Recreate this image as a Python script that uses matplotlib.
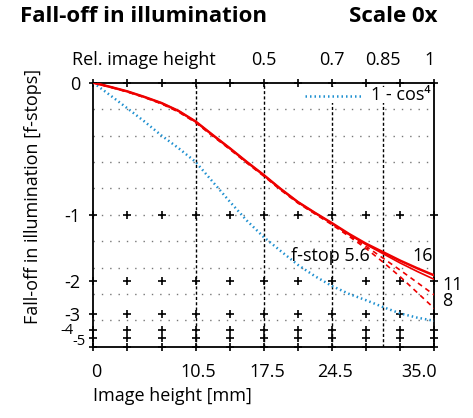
import numpy as np
import matplotlib.pyplot as plt
from matplotlib import transforms

plt.rcParams['font.family'] = ['Open Sans', 'DejaVu Sans']

# image height [mm]
height_mm = [0, 1.75, 3.5, 5.25, 7, 8.75, 10.5, 12.25, 14, 15.75, 17.5,
             19.25, 21, 22.75, 24.5, 26.25, 28, 29.75, 31.5, 33.25, 35]

# relative illumination (1 = no fall-off)
ill_16 = [1.0, 0.984, 0.967, 0.946, 0.923, 0.893, 0.853, 0.802, 0.752, 0.700, 0.650,
          0.597, 0.548, 0.507, 0.468, 0.427, 0.390, 0.358, 0.326, 0.297, 0.270]
ill_11 = [1.0, 0.984, 0.967, 0.946, 0.923, 0.893, 0.853, 0.802, 0.752, 0.700, 0.650,
          0.597, 0.548, 0.507, 0.467, 0.425, 0.387, 0.352, 0.317, 0.285, 0.255]
ill_8 = [1.0, 0.984, 0.966, 0.945, 0.921, 0.891, 0.851, 0.800, 0.750, 0.698, 0.648,
         0.595, 0.546, 0.505, 0.465, 0.422, 0.380, 0.335, 0.290, 0.243, 0.196]
ill_56 = [1.0, 0.983, 0.965, 0.944, 0.920, 0.889, 0.849, 0.798, 0.748, 0.696, 0.646,
          0.593, 0.544, 0.503, 0.462, 0.418, 0.372, 0.320, 0.265, 0.205, 0.145]
cos4 = [1.0, 0.952, 0.903, 0.853, 0.800, 0.752, 0.700, 0.625, 0.550, 0.478, 0.415,
        0.362, 0.310, 0.267, 0.230, 0.200, 0.176, 0.150, 0.126, 0.110, 0.098]

x_ticks = [0, 10.5, 17.5, 24.5, 35]
x_ticklabels = ['0', '10.5', '17.5', '24.5', '35.0']
rel_pos = [17.5, 24.5, 29.75, 35]
rel_labels = ['0.5', '0.7', '0.85', '1']
stops = [0, -1, -2, -3, -4, -5]

W, H = 473, 418
fig = plt.figure(figsize=(W / 100, H / 100), dpi=100)
ax = fig.add_axes([93.3 / W, 1 - 346.7 / H, (434.3 - 93.3) / W, (346.7 - 82.7) / H])
ax.set_xlim(0, 35)
ax.set_ylim(0, 1)

stop_vals = [2.0 ** s for s in stops]

# grid
for g in np.arange(0.1, 0.95, 0.1):
    ax.axhline(g, color='#777777', lw=1, ls=(0, (1, 5)), zorder=1)
for v in [10.5, 17.5, 24.5, 29.75]:
    ax.axvline(v, color='black', lw=1, ls=(0, (2.2, 1.6)), zorder=1)

# crosses at tick positions
xt = np.arange(0, 35.01, 3.5)
for s in stop_vals + [0]:
    ax.plot(xt, [s] * len(xt), ls='none', marker='+', ms=6, mew=1.2,
            color='black', clip_on=False, zorder=3)

# curves
red = '#ee0000'
blue = '#1e90d0'
ax.plot(height_mm, cos4, color=blue, lw=1.8, ls=(0, (0.6, 1.2)), zorder=4)
ax.plot(height_mm, ill_56, color=red, lw=1.2, ls=(0, (3, 2.5)), zorder=5)
ax.plot(height_mm, ill_8, color=red, lw=1.2, ls=(0, (3, 2.5)), zorder=5)
ax.plot(height_mm, ill_11, color=red, lw=1.2, zorder=5)
ax.plot(height_mm, ill_16, color=red, lw=1.8, zorder=6)

for sp in ax.spines.values():
    sp.set_linewidth(1.3)

# y tick labels
ax.set_yticks(stop_vals[:4])
ax.set_yticklabels([str(s) for s in stops[:4]], fontsize=13)
ax.tick_params(axis='y', length=0, pad=9)
ylab = transforms.blended_transform_factory(ax.transAxes, ax.transData)
ax.text(-0.058, stop_vals[4] - 0.001, '-4', fontsize=10.5, ha='right', va='center', transform=ylab)
ax.text(-0.022, stop_vals[5] - 0.012, '-5', fontsize=10.5, ha='right', va='center', transform=ylab)

# x tick labels
ax.set_xticks(x_ticks)
ax.set_xticklabels(x_ticklabels, fontsize=13)
ax.tick_params(axis='x', length=0, pad=12)
shift = transforms.ScaledTranslation(3 / 100, 0, fig.dpi_scale_trans)
for lab in ax.get_xticklabels():
    lab.set_transform(lab.get_transform() + shift)
ax.get_xticklabels()[-1].set_horizontalalignment('right')

# top axis labels
top = transforms.blended_transform_factory(ax.transData, ax.transAxes)
for p, t in zip(rel_pos, rel_labels):
    ax.text(p, 1.085, t, fontsize=13, ha='right' if t == '1' else 'center',
            va='center', transform=top)
ax.text(-2.2, 1.085, 'Rel. image height', fontsize=13, ha='left', va='center', transform=top)

# legend (white patch hides the grid behind it)
ax.fill_between([21.2, 34.6], 0.925, 0.985, color='white', lw=0, zorder=6)
ax.plot([21.7, 27.6], [0.95, 0.95], color=blue, lw=1.8, ls=(0, (0.6, 1.2)), zorder=7)
ax.text(28.5, 0.955, '1 - cos⁴', fontsize=13, ha='left', va='center', zorder=7)

# curve labels
ax.text(20.3, 0.345, 'f-stop 5.6', fontsize=13, ha='left', va='center')
ax.text(32.8, 0.342, '16', fontsize=13, ha='left', va='center')
ax.text(35.8, 0.235, '11', fontsize=13, ha='left', va='center')
ax.text(35.8, 0.172, '8', fontsize=13, ha='left', va='center')

ax.set_xlabel('Image height [mm]', fontsize=13, loc='left', labelpad=4)
fig.text(33 / W, 1 - 196 / H, 'Fall-off in illumination [f-stops]', fontsize=13,
         rotation=90, ha='center', va='center')

fig.text(20 / W, 1 - 17 / H, 'Fall-off in illumination', fontsize=16,
         fontweight='bold', ha='left', va='center')
fig.text(437 / W, 1 - 17 / H, 'Scale 0x', fontsize=16,
         fontweight='bold', ha='right', va='center')

fig.savefig('out.png', dpi=100)
